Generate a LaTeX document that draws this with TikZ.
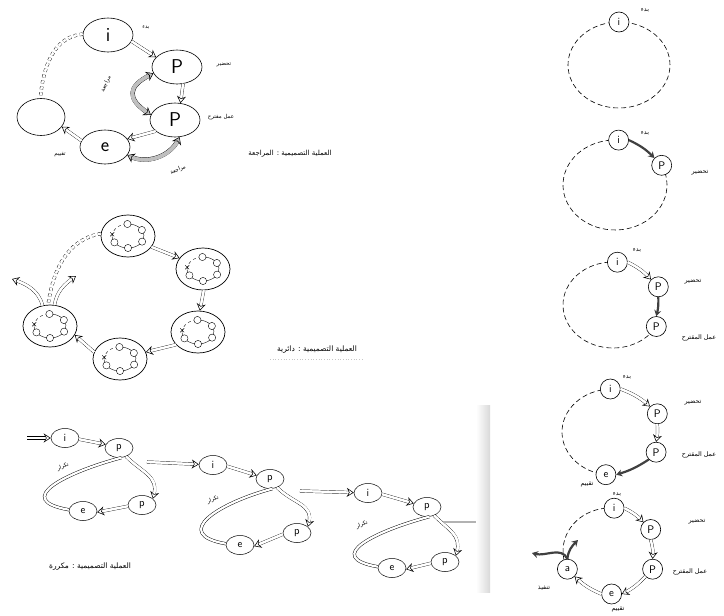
\documentclass[tikz,border=0pt]{standalone}
\usepackage{fontspec}
\newfontfamily\ar[Script=Arabic]{DejaVu Sans}
\TeXXeTstate=1
\usetikzlibrary{arrows.meta,shapes.geometric}
\newcommand\AR[1]{\beginR #1\endR}
\newcommand\harr[1]{\draw[holband, shorten >=3pt] #1; \draw[tipover] #1;}
\newcommand\rarr[1]{\draw[revband, shorten >=3pt, shorten <=3pt] #1; \draw[revover] #1;}
\begin{document}
\begin{tikzpicture}[x=1pt,y=1pt,
  lbl/.style={font=\ar\fontsize{5.5}{6}\selectfont, inner sep=0pt},
  dlbl/.style={font=\ar\fontsize{6.3}{7}\selectfont, inner sep=0pt},
  captext/.style={font=\ar\fontsize{7}{8}\selectfont, inner sep=0pt},
  bigell/.style={draw, ellipse, line width=0.6pt, minimum width=50pt, minimum height=34pt, inner sep=0pt, fill=white, font=\sffamily\fontsize{20}{20}\selectfont},
  ringell/.style={draw, ellipse, line width=0.7pt, minimum width=54pt, minimum height=42pt, inner sep=0pt},
  smell/.style={draw, ellipse, line width=0.5pt, minimum width=28pt, minimum height=19pt, inner sep=0pt, fill=white, font=\sffamily\fontsize{11}{11}\selectfont},
  dcirc/.style={draw, circle, line width=0.6pt, minimum size=20pt, inner sep=0pt, fill=white, font=\sffamily\fontsize{11}{11}\selectfont},
  holband/.style={draw=black, line width=0.45pt, double=white, double distance=2.2pt},
  tipover/.style={draw=white, line width=2.2pt, -{Stealth[color=black, fill=white, line width=0.55pt, length=7pt, width=9pt]}},
  revband/.style={draw=black, line width=0.4pt, double=gray!50, double distance=3.5pt},
  revover/.style={draw=gray!50, line width=3.5pt, {Stealth[color=black, fill=gray!50, line width=0.55pt, length=7pt, width=10pt]}-{Stealth[color=black, fill=gray!50, line width=0.55pt, length=7pt, width=10pt]}},
  dbldash/.style={draw=black, line width=0.4pt, dashed, double=white, double distance=2.5pt},
  dsh/.style={draw=black, line width=0.6pt, dash pattern=on 5pt off 3pt},
  darkarr/.style={draw=black!75, line width=2.2pt, -{Stealth[length=6pt, width=7pt]}},
  ring/.pic={
    \draw[line width=0.4pt] (95:16pt and 12pt) arc[start angle=95, end angle=-175, x radius=16pt, y radius=12pt];
    \draw[line width=0.4pt, dashed] (95:16pt and 12pt) arc[start angle=95, end angle=185, x radius=16pt, y radius=12pt];
    \foreach \a in {92,30,-28,-90,-148}{\draw[fill=white, line width=0.4pt] (\a:16pt and 12pt) circle[radius=3.6pt];}
    \draw[line width=0.4pt] (172:16pt and 12pt) +(-2pt,-2pt) -- +(2pt,2pt) +(-2pt,2pt) -- +(2pt,-2pt);
  }
]
\useasboundingbox (0,0) rectangle (724,-616);

% ---------------- Panel A : review ----------------
\node[bigell] (Ai) at (108,-35) {i};
\node[bigell] (Ap1) at (177,-67) {P};
\node[bigell] (Ap2) at (175,-120) {P};
\node[bigell] (Ae) at (105,-147) {e};
\node[bigell, minimum width=48pt, minimum height=37pt] (Ax) at (41,-117) {};
\draw[dbldash] (Ai.178) to[out=185,in=85] (Ax.92);
\harr{(Ai.-15) -- (Ap1.155)}
\harr{(Ap1.-70) -- (Ap2.72)}
\harr{(Ap2.-150) -- (Ae.20)}
\harr{(Ae.165) -- (Ax.-25)}
\rarr{(Ap1.195) to[bend right=60, looseness=1.8] (Ap2.168)}
\rarr{(Ae.-20) to[bend right=45] (Ap2.-75)}
\node[lbl] (Alb1) at (146,-28) {\AR{بدء}};
\node[lbl] (Alb2) at (224,-65) {\AR{تحضير}};
\node[lbl] (Alb3) at (221,-117) {\AR{عمل مقترح}};
\node[lbl] (Alb4) at (60,-155) {\AR{تقييم}};
\node[lbl, rotate=65] (Alb5) at (106,-84) {\AR{مراجعة}};
\node[lbl, rotate=25] (Alb6) at (178,-170) {\AR{مراجعة}};
\node[captext] (Acap) at (290,-154) {\AR{العملية التصميمية : المراجعة}};

% ---------------- Panel B : circular ----------------
\node[ringell] (B1) at (128,-236) {};
\node[ringell] (B2) at (203,-269) {};
\node[ringell] (B3) at (198,-332) {};
\node[ringell] (B4) at (120,-359) {};
\node[ringell] (B5) at (50,-326) {};
\foreach \n in {B1,B2,B3,B4,B5}{\pic at (\n) {ring};}
\harr{(B1.-25) -- (B2.155)}
\harr{(B2.-88) -- (B3.85)}
\harr{(B3.-150) -- (B4.15)}
\harr{(B4.165) -- (B5.-20)}
\draw[dbldash] (B1.175) to[out=190,in=82] (B5.95);
\coordinate (Bl) at (12,-279);
\coordinate (Br) at (76,-276);
\harr{(B5.110) to[out=105,in=-20] (Bl)}
\harr{(B5.78) to[out=80,in=215] (Br)}
\node[captext, font=\ar\fontsize{7.5}{8}\selectfont] (Bcap) at (317,-350) {\AR{العملية التصميمية : دائرية}};
\draw[gray!45, dotted, line width=0.7pt] (270,-359) -- (362,-359);

% ---------------- Panel C : repeated ----------------
\node[smell] (Ci1) at (65,-438) {i};
\node[smell] (Cp1) at (119,-448) {p};
\node[smell] (Cq1) at (142,-505) {p};
\node[smell] (Ce1) at (83,-511) {e};
\node[smell] (Ci2) at (213,-465) {i};
\node[smell] (Cp2) at (270,-479) {p};
\node[smell] (Cq2) at (297,-533) {p};
\node[smell] (Ce2) at (240,-545) {e};
\node[smell] (Ci3) at (368,-493) {i};
\node[smell] (Cp3) at (427,-507) {p};
\node[smell] (Cq3) at (445,-562) {p};
\node[smell] (Ce3) at (392,-568) {e};
\coordinate (Cin) at (27,-438);
\harr{(Cin) -- (Ci1)}
\foreach \k in {1,2,3}{
  \harr{(Ci\k.-5) -- (Cp\k.165)}
  \harr{(Cp\k.-50) to[out=-45,in=75,looseness=1.2] (Cq\k.30)}
  \harr{(Cq\k.185) -- (Ce\k.-5)}
  \draw[holband] (Ce\k.175) to[out=170,in=195,looseness=2] (Cp\k.-75);
}
\coordinate (Co1) at (147,-462);
\coordinate (Co2) at (300,-491);
\coordinate (Co3) at (443,-522);
\coordinate (Co4) at (489,-522);
\harr{(Co1) -- (Ci2)}
\harr{(Co2) -- (Ci3)}
\draw[draw=black!70, line width=0.5pt, double=gray!60, double distance=1.6pt] (Co3) -- (Co4);
\node[lbl, rotate=20] (Cl1) at (63,-467) {\AR{تكرار}};
\node[lbl, rotate=20] (Cl2) at (213,-500) {\AR{تكرار}};
\node[lbl, rotate=20] (Cl3) at (362,-525) {\AR{تكرار}};
\node[captext, font=\ar\fontsize{7.5}{8}\selectfont] (Ccap) at (90,-567) {\AR{العملية التصميمية : مكررة}};
\fill[left color=white, right color=gray!30] (476,-405) rectangle (490,-592);

% ---------------- Panel D : step by step ----------------
% D1
\draw[dsh] (619,-65) ellipse [x radius=51pt, y radius=43pt];
\node[dcirc] (Di1) at (619,-22) {i};
\node[dlbl] (Dl11) at (645,-10) {\AR{بدء}};
% D2
\draw[dsh] (615,-185) ++(86:52pt and 45pt) arc[start angle=86, end angle=386, x radius=52pt, y radius=45pt];
\node[dcirc] (Di2) at (618.6,-140.1) {i};
\node[dcirc] (Dp2) at (661.7,-165.3) {P};
\draw[darkarr] (Di2.east) to[bend left=10] (Dp2.north west);
\node[dlbl] (Dl21) at (645,-133) {\AR{بدء}};
\node[dlbl] (Dl22) at (700,-173) {\AR{تحضير}};
% D3
\draw[dsh] (613,-305) ++(85:50pt and 43pt) arc[start angle=85, end angle=330, x radius=50pt, y radius=43pt];
\node[dcirc] (Di3) at (617.4,-262.2) {i};
\node[dcirc] (Dp3a) at (658.3,-286.8) {P};
\node[dcirc] (Dp3b) at (656.3,-326.5) {P};
\harr{(Di3.east) to[bend left=10] (Dp3a.north west)}
\draw[darkarr] (Dp3a.south) to[bend left=8] (Dp3b.north);
\node[dlbl] (Dl31) at (637,-250) {\AR{بدء}};
\node[dlbl] (Dl32) at (693,-282) {\AR{تحضير}};
\node[dlbl] (Dl33) at (699,-338) {\AR{عمل المقترح}};
% D4
\draw[dsh] (612,-432) ++(92:50pt and 43pt) arc[start angle=92, end angle=263, x radius=50pt, y radius=43pt];
\node[dcirc] (Di4) at (610.3,-389) {i};
\node[dcirc] (Dp4a) at (657.3,-413.8) {P};
\node[dcirc] (Dp4b) at (656.1,-452.2) {P};
\node[dcirc] (De4) at (605.9,-474.7) {e};
\harr{(Di4.east) to[bend left=10] (Dp4a.north west)}
\harr{(Dp4a.south) to[bend left=8] (Dp4b.north)}
\draw[darkarr] (Dp4b.south west) to[bend left=8] (De4.east);
\node[dlbl] (Dl41) at (627,-377) {\AR{بدء}};
\node[dlbl] (Dl42) at (693,-403) {\AR{تحضير}};
\node[dlbl] (Dl43) at (699,-455) {\AR{عمل المقترح}};
\node[dlbl] (Dl44) at (587,-484) {\AR{تقييم}};
% D5
\draw[dsh] (610,-551) ++(85:47pt and 43pt) arc[start angle=85, end angle=205, x radius=47pt, y radius=43pt];
\node[dcirc] (Di5) at (614.1,-508.2) {i};
\node[dcirc] (Dp5a) at (650.7,-529.5) {P};
\node[dcirc] (Dp5b) at (652.6,-569.2) {P};
\node[dcirc] (De5) at (611.6,-594) {e};
\node[dcirc] (Da5) at (567.4,-569.2) {a};
\harr{(Di5.east) to[bend left=10] (Dp5a.north west)}
\harr{(Dp5a.south) to[bend left=10] (Dp5b.north)}
\harr{(Dp5b.south west) to[bend left=10] (De5.east)}
\harr{(De5.west) to[bend left=10] (Da5.south east)}
\coordinate (Dal) at (532,-553);
\coordinate (Dar) at (578,-540);
\draw[darkarr] (Da5.north) to[out=115,in=-15] (Dal);
\draw[darkarr] (Da5.north) to[out=85,in=225] (Dar);
\node[dlbl] (Dl51) at (617,-494) {\AR{بدء}};
\node[dlbl] (Dl52) at (697,-522) {\AR{تحضير}};
\node[dlbl] (Dl53) at (690,-572) {\AR{عمل المقترح}};
\node[dlbl] (Dl54) at (618,-609) {\AR{تقييم}};
\node[dlbl] (Dl55) at (544,-588) {\AR{تنفيذ}};
\end{tikzpicture}
\end{document}
